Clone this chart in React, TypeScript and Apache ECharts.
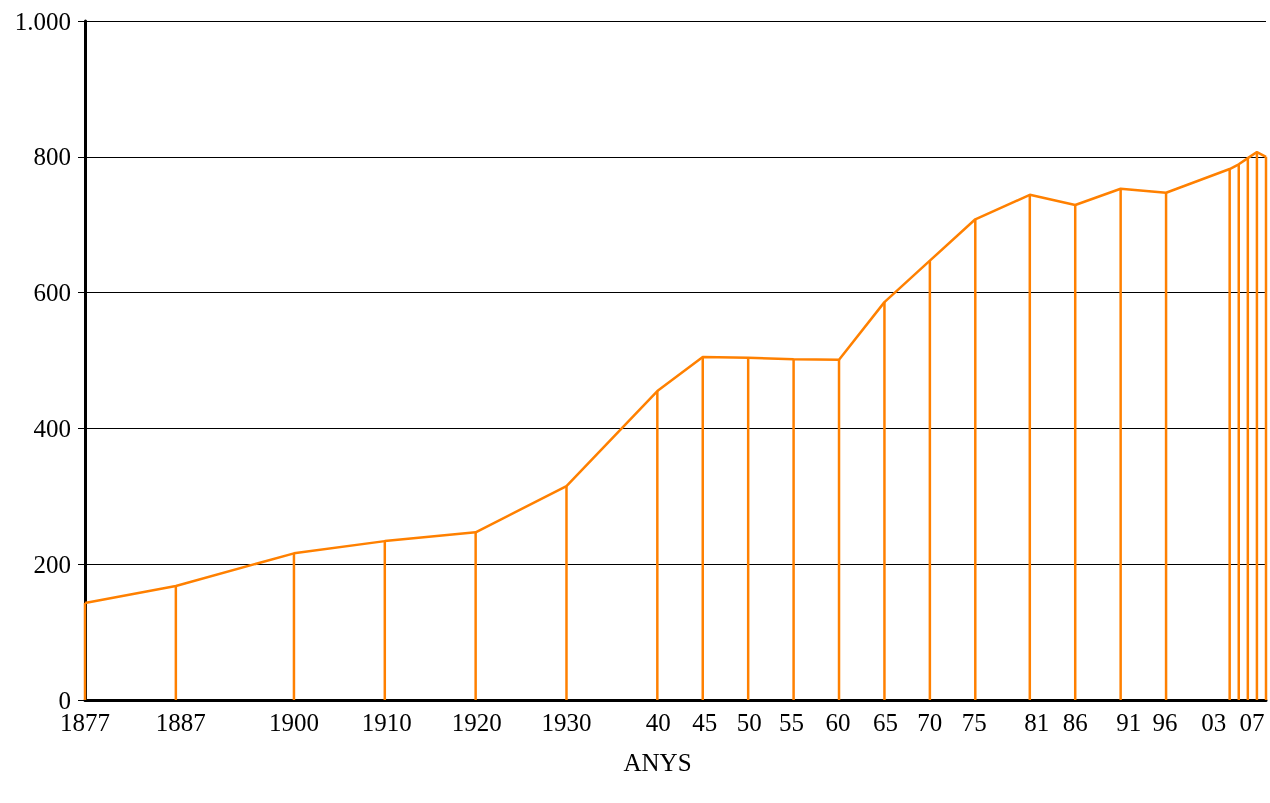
import React, { useEffect, useRef } from "react";
import * as echarts from "echarts";

const years = [1877, 1887, 1900, 1910, 1920, 1930, 1940, 1945, 1950, 1955, 1960, 1965, 1970, 1975, 1981, 1986, 1991, 1996, 2003, 2004, 2005, 2006, 2007];
const values = [143, 168, 216, 234, 247, 315, 455, 505, 504, 502, 501, 586, 647, 708, 744, 729, 753, 747, 782, 789, 798, 807, 800];
const tickYears = [1877, 1887, 1900, 1910, 1920, 1930, 1940, 1945, 1950, 1955, 1960, 1965, 1970, 1975, 1981, 1986, 1991, 1996, 2003, 2007];
const tickLabels = ["1877", "1887", "1900", "1910", "1920", "1930", "40", "45", "50", "55", "60", "65", "70", "75", "81", "86", "91", "96", "03", "07"];
const labelShift = [0, 5, 0, 2, 1, 0, 1, 2, 1, -2, -1, 1, 0, -1, 7, 0, 8, -1, -16, -14];

export default function App() {
  const ref = useRef<HTMLDivElement>(null);
  useEffect(() => {
    const chart = echarts.init(ref.current!, null, { renderer: "svg" });
    const data = years.map((y, i) => [y, values[i]]);
    const rich: Record<string, any> = {};
    labelShift.forEach((s, i) => {
      rich["s" + i] = {
        fontFamily: "Liberation Serif",
        fontSize: 25,
        color: "#000",
        padding: s >= 0 ? [0, 0, 0, 2 * s] : [0, -2 * s, 0, 0],
      };
    });
    chart.setOption({
      animation: false,
      grid: { left: 85, right: 4, top: 21, bottom: 103, containLabel: false },
      xAxis: {
        type: "value",
        min: 1877,
        max: 2007,
        interval: 1,
        name: "ANYS",
        nameLocation: "middle",
        nameGap: 50,
        nameTextStyle: { fontFamily: "Liberation Serif", fontSize: 25, color: "#000", padding: [0, 36, 0, 0] },
        axisLine: { show: true, lineStyle: { color: "#000", width: 3 } },
        axisTick: { show: false },
        splitLine: { show: false },
        axisLabel: {
          margin: 10,
          showMinLabel: true,
          showMaxLabel: true,
          formatter: (v: number) => {
            const i = tickYears.indexOf(Math.round(v));
            return i >= 0 ? `{s${i}|${tickLabels[i]}}` : "";
          },
          rich,
          fontFamily: "Liberation Serif",
          fontSize: 25,
          color: "#000",
        },
      },
      yAxis: {
        type: "value",
        min: 0,
        max: 1000,
        interval: 200,
        axisLine: { show: true, lineStyle: { color: "#000", width: 3 } },
        axisTick: { show: true, length: 7, lineStyle: { color: "#000", width: 1 } },
        splitLine: { show: true, lineStyle: { color: "#000", width: 1 } },
        axisLabel: {
          margin: 14,
          fontFamily: "Liberation Serif",
          fontSize: 25,
          color: "#000",
          formatter: (v: number) => (v >= 1000 ? "1.000" : String(v)),
        },
      },
      series: [
        {
          type: "bar",
          data,
          barWidth: 2.5,
          itemStyle: { color: "#ff8000" },
          z: 2,
        },
        {
          type: "line",
          data,
          symbol: "none",
          lineStyle: { color: "#ff8000", width: 2.5 },
          z: 3,
        },
      ],
    });
    return () => chart.dispose();
  }, []);
  return <div ref={ref} style={{ position: "fixed", left: 0, top: 0, width: 1270, height: 803 }} />;
}
